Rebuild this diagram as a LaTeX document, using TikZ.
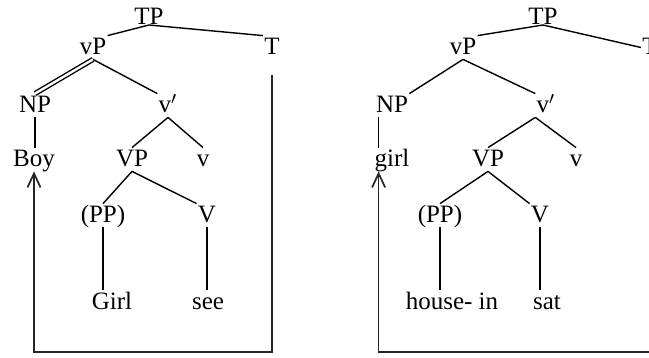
\documentclass[tikz,border=0pt]{standalone}
\usepackage{fontspec}
\setmainfont{Liberation Serif}
\usetikzlibrary{arrows.meta,calc}

\begin{document}
\begin{tikzpicture}[
  x=0.5pt, y=-0.5pt,
  font=\fontsize{12.5}{15}\selectfont,
  >={Straight Barb[length=7pt,width=6.5pt]},
  cat/.style={anchor=base, inner sep=0.5pt, text height=9pt, text depth=1.5pt},
  branch/.style={line width=0.7pt},
  movement/.style={->, line width=0.85pt, draw=black!85}
]
\useasboundingbox (0,0) rectangle (649,358);
\clip (0,0) rectangle (649,358);

% Left tree: Boy ... Girl see
\node[cat] (tpA) at (149,25) {TP};
\node[cat] (vpA) at (93,55) {vP};
\node[cat] (tA) at (272,55) {T};
\node[cat] (npA) at (35,113) {NP};
\node[cat] (vbarA) at (168,113) {v$'$};
\node[cat] (boy) at (34,167) {Boy};
\node[cat] (bigvpA) at (132,167) {VP};
\node[cat] (vA) at (203,167) {v};
\node[cat] (ppA) at (103,223) {(PP)};
\node[cat] (verbA) at (207,223) {V};
\node[cat] (girlA) at (112,309) {Girl};
\node[cat] (see) at (208,309) {see};
\coordinate (botA) at (boy.south |- 0,352);

\draw[branch] (tpA.base) -- (vpA.north east);
\draw[branch] (tpA.base) -- (tA.north west);
\draw[branch, double, double distance=1.2pt] (vpA.south) -- (npA.north);
\draw[branch] (vpA.south) -- (vbarA.north west);
\draw[branch] (npA.south) -- (npA.south |- boy.north);
\draw[branch] (vbarA.south) -- (bigvpA.north);
\draw[branch] (vbarA.south) -- (vA.north);
\draw[branch] (bigvpA.south) -- (ppA.north);
\draw[branch] (bigvpA.south) -- (verbA.north west);
\draw[branch] (ppA.south) -- (ppA.south |- girlA.north);
\draw[branch] (verbA.south) -- (verbA.south |- see.north);
\draw[movement, shorten <=8pt] (tA.south) |- (botA) -- (boy.south);

% Right tree: girl ... house- in sat
\node[cat] (tpB) at (543,25) {TP};
\node[cat] (vpB) at (463,55) {vP};
\node[cat] (tB) at (650,55) {T};
\node[cat] (npB) at (392,113) {NP};
\node[cat] (vbarB) at (546,113) {v$'$};
\node[cat] (girlB) at (392,167) {girl};
\node[cat] (bigvpB) at (488,167) {VP};
\node[cat] (vB) at (576,167) {v};
\node[cat] (ppB) at (440,223) {(PP)};
\node[cat] (verbB) at (540,223) {V};
\node[cat] (house) at (452,309) {house- in};
\node[cat] (sat) at (547,309) {sat};
\coordinate (hookB) at ([xshift=2pt]npB.south west);
\coordinate (botB) at (hookB |- 0,352);

\draw[branch] (tpB.base) -- (vpB.north east);
\draw[branch] (tpB.base) -- (tB.west);
\draw[branch] (vpB.south) -- (npB.north east);
\draw[branch] (vpB.south) -- (vbarB.north west);
\draw[branch] (hookB) -- (hookB |- girlB.north);
\draw[branch] (vbarB.south west) -- (bigvpB.north);
\draw[branch] (vbarB.south west) -- (vB.north);
\draw[branch] (bigvpB.south) -- (ppB.north);
\draw[branch] (bigvpB.south) -- (verbB.north west);
\draw[branch] (ppB.south) -- (ppB.south |- house.north);
\draw[branch] (verbB.south) -- (verbB.south |- sat.north);
\draw[movement, shorten <=8pt] (tB.south) |- (botB) -- (hookB |- girlB.south);

\end{tikzpicture}
\end{document}
